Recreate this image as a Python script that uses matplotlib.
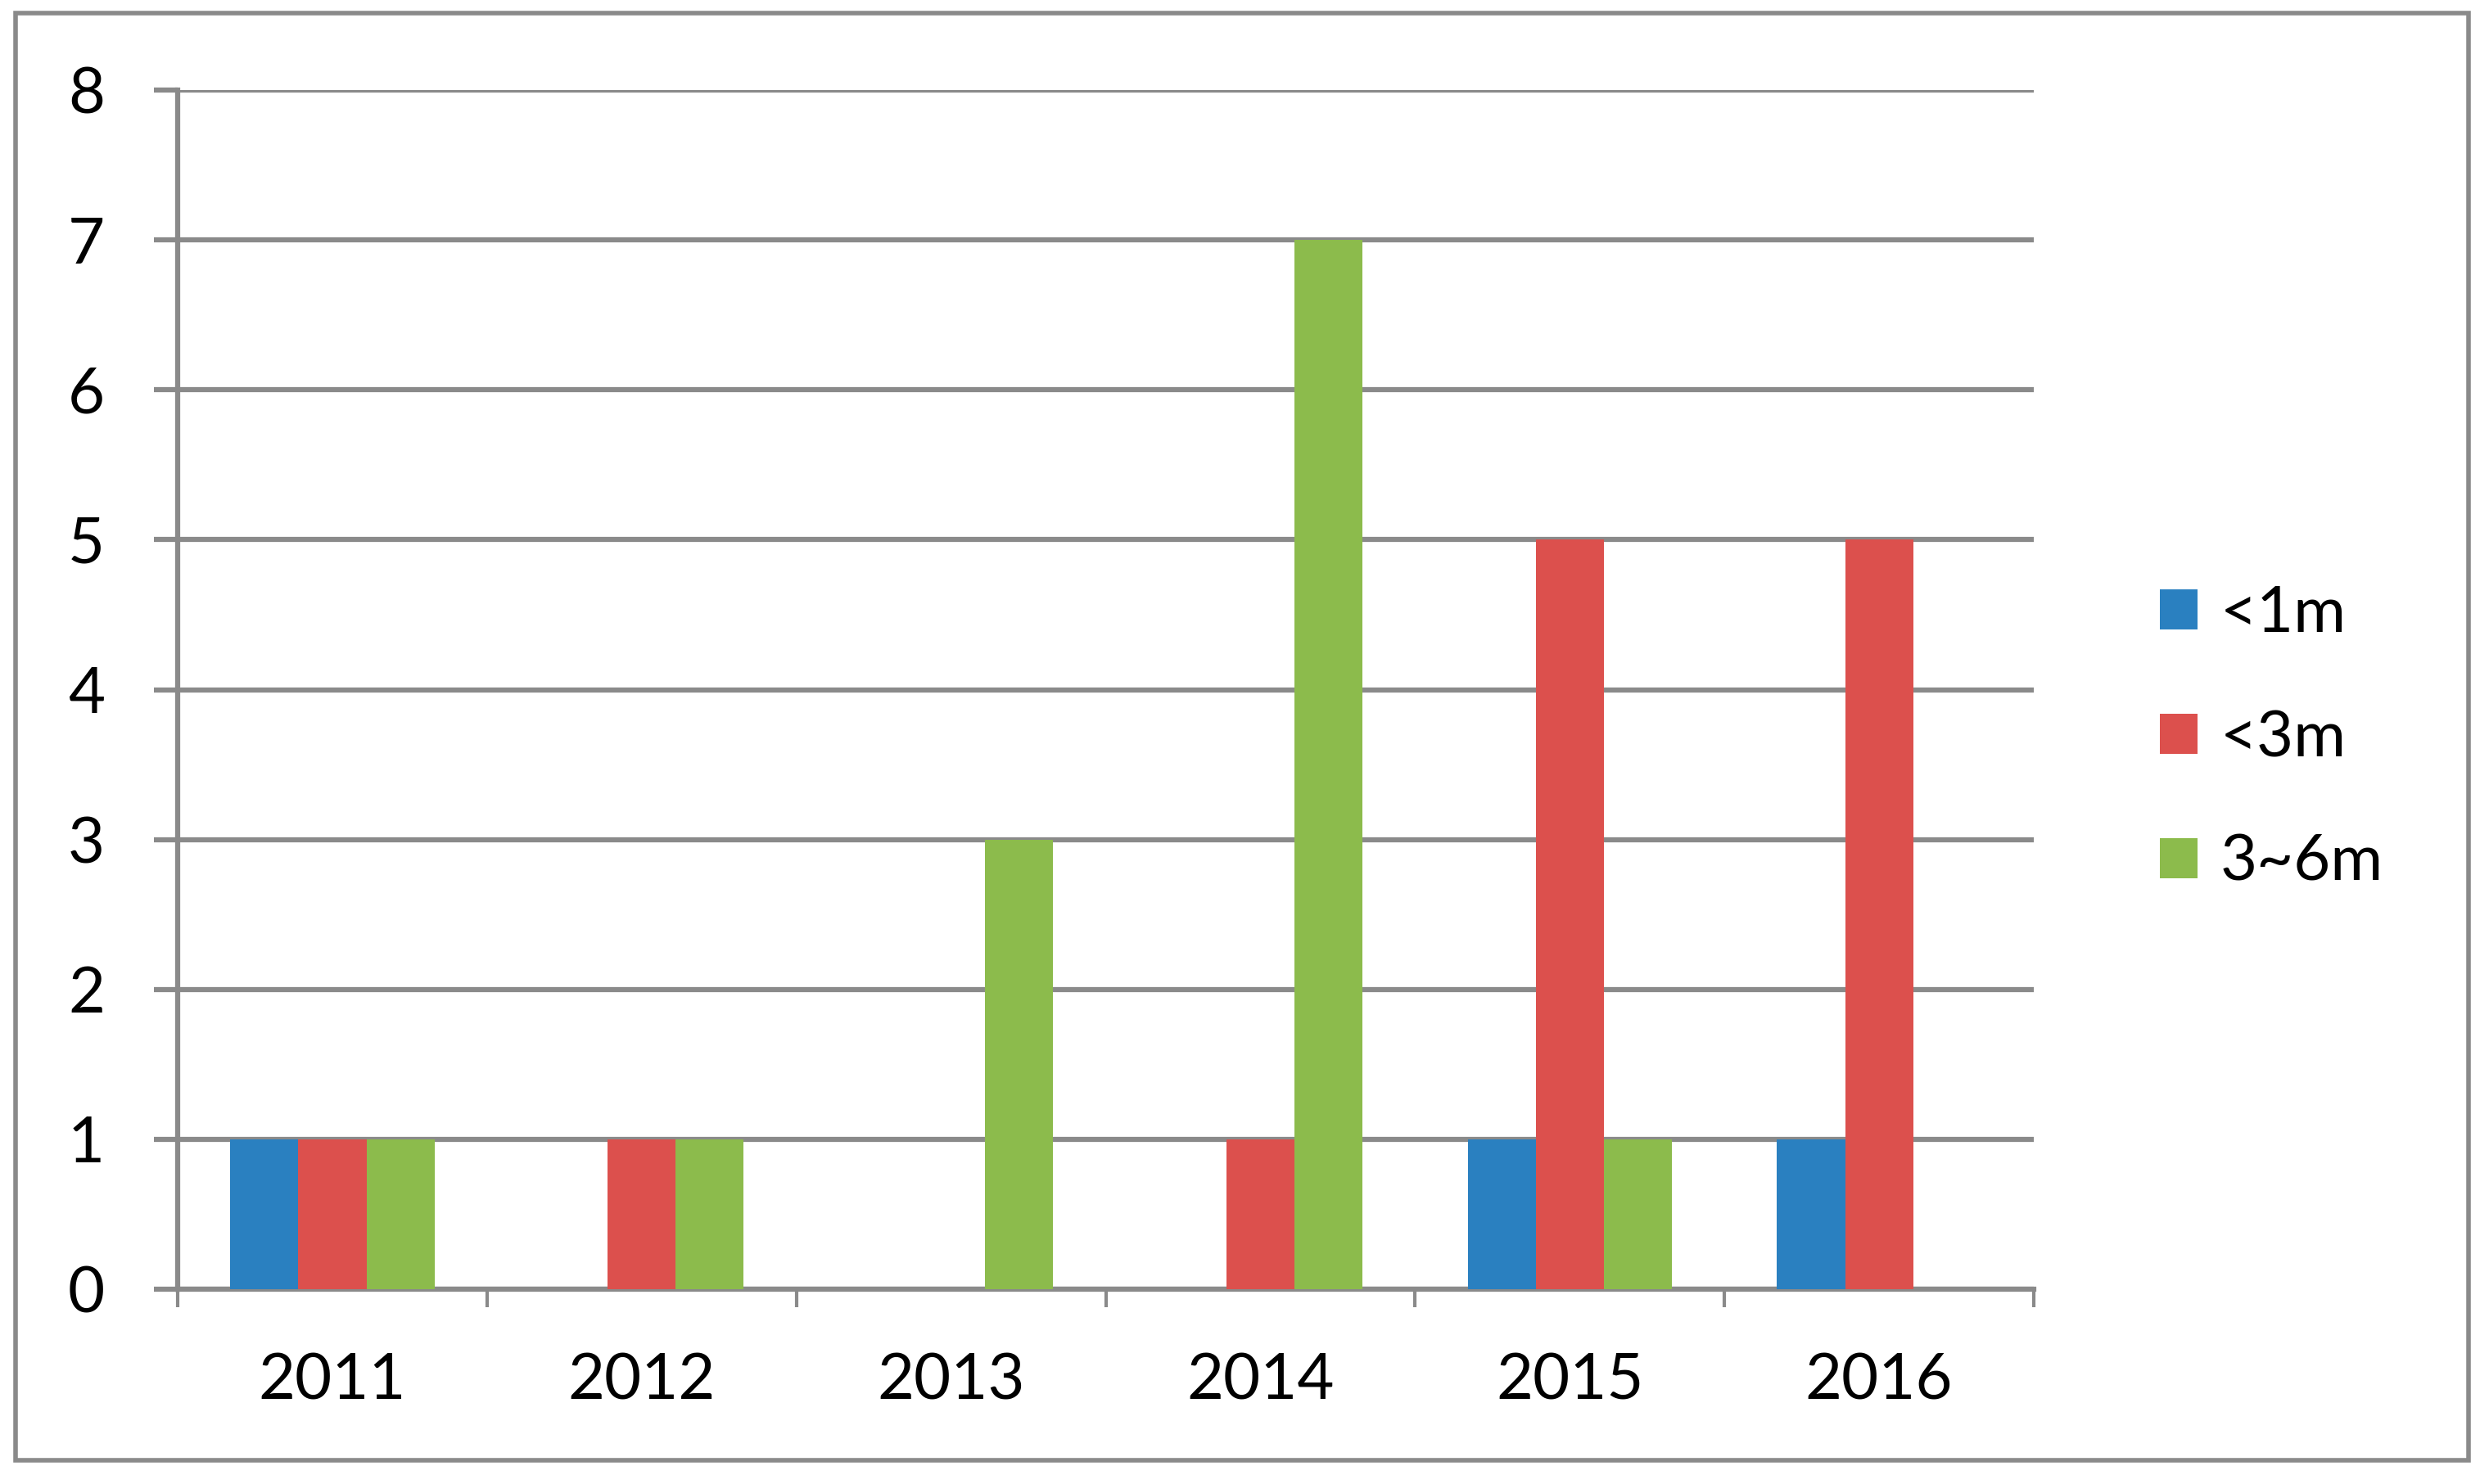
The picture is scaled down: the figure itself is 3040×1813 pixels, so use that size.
import matplotlib.pyplot as plt
import numpy as np
from matplotlib.patches import Rectangle

years = ["2011", "2012", "2013", "2014", "2015", "2016"]
series_names = ["<1m", "<3m", "3~6m"]
lt1m = [1, 0, 0, 0, 1, 1]
lt3m = [1, 1, 0, 1, 5, 5]
m3to6 = [1, 1, 3, 7, 1, 0]
colors = ["#2A80C0", "#DC504D", "#8CBB4C"]

plt.rcParams['font.family'] = ['Lato', 'DejaVu Sans']
grey = "#8A8A8A"
fs = 56

fig = plt.figure(figsize=(30.4, 18.13), dpi=100)
# outer frame
fig.patches.append(Rectangle((0.0063, 0.016), 0.9855, 0.9752, transform=fig.transFigure,
                             fill=False, edgecolor=grey, linewidth=4, zorder=0))

ax = fig.add_axes([0.0714, 0.1313, 0.7457, 0.808])
x = np.arange(len(years))
w = 0.22
for i, (vals, name) in enumerate(zip([lt1m, lt3m, m3to6], series_names)):
    ax.bar(x + (i - 1) * w, vals, width=w, color=colors[i], label=name, zorder=3)

ax.set_xlim(-0.5, len(years) - 0.5)
ax.set_ylim(0, 8)
ax.set_yticks(range(0, 9))
ax.yaxis.grid(True, color=grey, linewidth=4.5, zorder=1)
ax.set_axisbelow(True)

ax.set_xticks(np.arange(-0.5, len(years)), minor=False)
ax.set_xticklabels([])
ax.set_xticks(x, minor=True)
ax.set_xticklabels(years, minor=True)
ax.tick_params(axis='x', which='major', length=16, width=3, color=grey)
ax.tick_params(axis='x', which='minor', length=0, pad=56, labelsize=fs)
ax.tick_params(axis='y', length=21, width=4.5, color=grey, pad=43, labelsize=fs)

for s in ['top', 'right']:
    ax.spines[s].set_visible(False)
ax.spines['left'].set_color(grey)
ax.spines['left'].set_linewidth(4.5)
ax.spines['bottom'].set_color(grey)
ax.spines['bottom'].set_linewidth(4.5)

leg = ax.legend(loc='center left', bbox_to_anchor=(1.054, 0.459), frameon=False,
                borderaxespad=0, fontsize=fs, handlelength=0.6, handleheight=0.6,
                handletextpad=0.35, labelspacing=1.04)

fig.savefig("out.png", dpi=100)
